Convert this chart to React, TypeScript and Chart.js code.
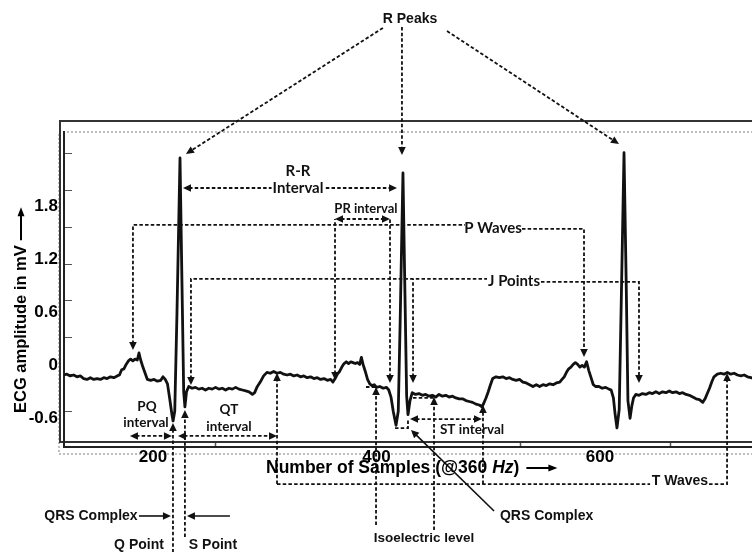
import { useEffect, useRef } from "react";
import { Chart, registerables } from "chart.js";
Chart.register(...registerables);

// ECG trace: [sample index, amplitude in mV]
const ecgTrace: [number, number][] = [
  [120, -0.11], [123, -0.10], [126, -0.12], [129, -0.11], [132, -0.13], [135, -0.12], [138, -0.15], [141, -0.16],
  [144, -0.14], [147, -0.16], [150, -0.15], [153, -0.16], [156, -0.14], [159, -0.15], [162, -0.13], [165, -0.14],
  [168, -0.12], [170, -0.11], [172, -0.05], [174, -0.04], [176, 0.01], [178, 0.05], [180, 0.07], [182, 0.05],
  [184, 0.07], [186, 0.06], [187.5, 0.14], [189, 0.06], [191, -0.02], [193, -0.09], [195, -0.16], [198, -0.17],
  [201, -0.16], [204, -0.18], [207, -0.17], [209, -0.13], [211, -0.16], [213, -0.21], [215, -0.38], [217, -0.56],
  [218, -0.63], [219.5, -0.52], [221.5, 0.6], [224.2, 2.35], [226, 0.9], [227.5, -0.3], [228.6, -0.47], [230, -0.3],
  [232, -0.24], [235, -0.26], [238, -0.25], [241, -0.27], [244, -0.26], [247, -0.28], [250, -0.26], [253, -0.27],
  [256, -0.25], [259, -0.27], [262, -0.26], [265, -0.28], [268, -0.26], [271, -0.27], [274, -0.25], [277, -0.27],
  [280, -0.28], [283, -0.29], [286, -0.30], [289, -0.33], [291, -0.31], [293, -0.25], [296, -0.19], [299, -0.12],
  [302, -0.08], [305, -0.09], [308, -0.07], [311, -0.09], [314, -0.08], [317, -0.10], [320, -0.11], [323, -0.10],
  [326, -0.12], [329, -0.11], [332, -0.13], [335, -0.12], [338, -0.14], [341, -0.13], [344, -0.15], [347, -0.14],
  [350, -0.16], [353, -0.15], [356, -0.17], [359, -0.16], [361, -0.19], [363, -0.15], [365, -0.10], [367, -0.07],
  [369, -0.02], [371, 0.02], [373, 0.04], [375, 0.02], [377, 0.04], [379, 0.03], [381, 0.02], [383, 0.03],
  [385, 0.01], [386.5, 0.09], [388, 0.01], [390, -0.07], [392, -0.16], [394, -0.21], [396, -0.23], [398, -0.22],
  [400, -0.25], [403, -0.24], [406, -0.26], [409, -0.25], [411, -0.28], [413, -0.36], [415, -0.52], [417.5, -0.68],
  [419.5, -0.52], [421.2, 0.5], [423.7, 2.18], [425.5, 0.8], [427, -0.35], [428.2, -0.56], [430, -0.4], [432, -0.31],
  [435, -0.33], [438, -0.32], [441, -0.34], [444, -0.33], [447, -0.35], [450, -0.34], [453, -0.36], [456, -0.33],
  [459, -0.35], [462, -0.34], [465, -0.36], [468, -0.35], [471, -0.37], [474, -0.38], [477, -0.38], [480, -0.40],
  [483, -0.41], [486, -0.42], [489, -0.44], [492, -0.45], [494.4, -0.47], [496, -0.43], [498, -0.37], [500, -0.30],
  [502, -0.22], [504, -0.15], [507, -0.13], [510, -0.14], [513, -0.13], [516, -0.15], [519, -0.14], [522, -0.16],
  [525, -0.17], [528, -0.16], [531, -0.19], [534, -0.20], [537, -0.22], [540, -0.24], [543, -0.22], [546, -0.24],
  [549, -0.22], [552, -0.23], [555, -0.21], [558, -0.22], [561, -0.20], [564, -0.19], [566, -0.16], [568, -0.13],
  [570, -0.08], [572, -0.04], [574, -0.02], [576, 0.01], [578, 0.03], [580, 0.01], [582, -0.02], [584, 0.0],
  [586, -0.02], [588, 0.04], [590, -0.06], [592, -0.14], [594, -0.22], [596, -0.24], [599, -0.24], [602, -0.26],
  [605, -0.25], [608, -0.27], [610, -0.28], [612, -0.37], [613.5, -0.55], [615.2, -0.71], [617.2, -0.5], [619, 0.7],
  [621.5, 2.41], [623.5, 0.9], [625, -0.4], [626.9, -0.6], [628.5, -0.46], [630, -0.37], [632, -0.33], [635, -0.34],
  [638, -0.32], [641, -0.33], [644, -0.31], [647, -0.32], [650, -0.30], [653, -0.32], [656, -0.30], [659, -0.31],
  [662, -0.29], [665, -0.31], [668, -0.30], [671, -0.32], [674, -0.31], [677, -0.33], [680, -0.34], [683, -0.36],
  [686, -0.38], [689, -0.39], [692, -0.42], [694, -0.38], [696, -0.32], [698, -0.26], [700, -0.19], [702, -0.13],
  [705, -0.10], [708, -0.09], [711, -0.10], [714, -0.08], [717, -0.10], [720, -0.09], [723, -0.11], [726, -0.12],
  [729, -0.11], [732, -0.13], [735, -0.14], [738, -0.15], [741, -0.16], [744, -0.17],
];

const xTickValues = [200, 400, 600];
const yTickValues = [-0.6, 0, 0.6, 1.2, 1.8];
const yMinorTicks = [2.41, 1.99, 1.57, 1.15, 0.74, 0.32, -0.1, -0.52];
const xMinorTicks = [255.5, 528.4, 662.7];
const X_MIN = 120.4;
const X_MAX = 756.6;
const Y_MIN = -0.926;
const Y_MAX = 2.645;

type Pt = [number, number];
interface AnnoPath { pts: Pt[]; head0?: boolean; head1?: boolean; solid?: boolean }
interface AnnoLabel { text: string; at: Pt; font: string; align?: CanvasTextAlign; bg?: boolean }

const ARIAL = "'Liberation Sans', Arial, sans-serif";
const CALI = "Lato, 'Open Sans', sans-serif";

// annotation geometry in data units (sample, mV)
const annotationPaths: AnnoPath[] = [
  // R peaks
  { pts: [[405.8, 3.825], [229.5, 2.396]], head1: true },
  { pts: [[422.8, 3.836], [422.8, 2.385]], head1: true },
  { pts: [[463.1, 3.79], [617, 2.509]], head1: true },
  // R-R interval
  { pts: [[226.9, 2.01], [418.4, 2.01]], head0: true, head1: true },
  // PR interval
  { pts: [[362.9, 1.659], [412.1, 1.659]], head0: true, head1: true },
  // P waves
  { pts: [[182.1, 0.174], [182.1, 1.591], [479.2, 1.591]], head0: true },
  { pts: [[362.9, -0.166], [362.9, 1.659]], head0: true },
  { pts: [[530.2, 1.546], [585.7, 1.546], [585.7, 0.094]], head1: true },
  // J points
  { pts: [[234, -0.223], [234, 0.979], [498.9, 0.979]], head0: true },
  { pts: [[432.7, -0.2], [432.7, 0.979]], head0: true },
  { pts: [[412.1, -0.2], [412.1, 1.659]], head0: true },
  { pts: [[547.2, 0.945], [634.9, 0.945], [634.9, -0.2]], head1: true },
  // PQ / QT
  { pts: [[179.4, -0.801], [217, -0.801]], head0: true, head1: true },
  { pts: [[222.4, -0.801], [311, -0.801]], head0: true, head1: true },
  // Q point / S point
  { pts: [[217.9, -2.25], [217.9, -0.654]], head1: true },
  { pts: [[228.6, -1.946], [228.6, -0.506]], head1: true },
  // T waves
  { pts: [[311, -1.346], [311, -0.087]], head1: true },
  { pts: [[311, -1.346], [644.8, -1.346]] },
  { pts: [[697.6, -1.346], [713.7, -1.346], [713.7, -0.087]], head1: true },
  { pts: [[495.3, -1.346], [495.3, -0.45]], head1: true },
  // ST interval
  { pts: [[430, -0.609], [494.4, -0.609]], head0: true, head1: true },
  { pts: [[416.6, -0.711], [428.2, -0.711], [428.2, -0.6]] },
  // isoelectric level
  { pts: [[399.6, -1.81], [399.6, -0.246]], head1: true },
  { pts: [[390.6, -0.246], [399.6, -0.246]] },
  { pts: [[451.5, -1.867], [451.5, -0.359]], head1: true },
  { pts: [[432.7, -0.37], [451.5, -0.37]] },
  // QRS complex pointers (solid)
  { pts: [[505.2, -1.652], [430.9, -0.733]], head1: true, solid: true },
  { pts: [[187.5, -1.708], [216.1, -1.708]], head1: true, solid: true },
  { pts: [[268.9, -1.708], [230.4, -1.708]], head1: true, solid: true },
];

const annotationLabels: AnnoLabel[] = [
  { text: "R Peaks", at: [430, 3.93], font: `bold 14px ${ARIAL}` },
  { text: "R-R", at: [329.8, 2.203], font: `bold 15px ${CALI}` },
  { text: "Interval", at: [329.8, 2.01], font: `bold 15px ${CALI}`, bg: true },
  { text: "PR interval", at: [390.6, 1.772], font: `bold 13px ${CALI}` },
  { text: "P Waves", at: [504.3, 1.557], font: `bold 15px ${CALI}` },
  { text: "J Points", at: [523.1, 0.956], font: `bold 15px ${CALI}` },
  { text: "PQ", at: [194.6, -0.472], font: `bold 13.5px ${CALI}` },
  { text: "interval", at: [193.7, -0.654], font: `bold 13.5px ${CALI}` },
  { text: "QT", at: [268, -0.506], font: `bold 13.5px ${CALI}` },
  { text: "interval", at: [268, -0.7], font: `bold 13.5px ${CALI}` },
  { text: "ST interval", at: [485.5, -0.733], font: `bold 13.5px ${CALI}` },
  { text: "T Waves", at: [671.6, -1.311], font: `bold 14px ${ARIAL}` },
  { text: "Isoelectric level", at: [442.5, -1.958], font: `bold 13.5px ${ARIAL}` },
  { text: "QRS Complex", at: [510.5, -1.708], font: `bold 14px ${ARIAL}`, align: "left" },
  { text: "QRS Complex", at: [144.5, -1.708], font: `bold 14px ${ARIAL}` },
  { text: "Q Point", at: [187.5, -2.037], font: `bold 14px ${ARIAL}` },
  { text: "S Point", at: [253.7, -2.037], font: `bold 14px ${ARIAL}` },
];

const INK = "#111";

function arrowHead(ctx: CanvasRenderingContext2D, fx: number, fy: number, tx: number, ty: number, len = 8, half = 3.8) {
  const a = Math.atan2(ty - fy, tx - fx);
  const c = Math.cos(a), s = Math.sin(a);
  ctx.beginPath();
  ctx.moveTo(tx, ty);
  ctx.lineTo(tx - len * c + half * s, ty - len * s - half * c);
  ctx.lineTo(tx - len * c - half * s, ty - len * s + half * c);
  ctx.closePath();
  ctx.fill();
}

function shorten(p: number[], q: number[], d: number) {
  const dx = q[0] - p[0], dy = q[1] - p[1];
  const L = Math.hypot(dx, dy) || 1;
  return [p[0] + (dx / L) * d, p[1] + (dy / L) * d];
}

const ecgPlugin = {
  id: "ecgAnnotations",
  beforeDraw(chart: any) {
    const { ctx, chartArea: ca } = chart;
    const W = chart.width;
    const xs = chart.scales.x, ys = chart.scales.y;
    ctx.save();
    ctx.fillStyle = "#fff";
    ctx.fillRect(0, 0, W, chart.height);
    // light dotted frame
    ctx.strokeStyle = "#a8a8a8";
    ctx.lineWidth = 1.5;
    ctx.setLineDash([2, 2]);
    ctx.strokeRect(ca.left - 5, ca.top, W + 30, ca.bottom + 7 - ca.top);
    // outer solid frame
    ctx.setLineDash([]);
    ctx.strokeStyle = "#333";
    ctx.lineWidth = 2;
    ctx.strokeRect(ca.left - 4, ca.top - 11, W + 30, ca.bottom - 5 - (ca.top - 11));
    // inner minor ticks
    ctx.strokeStyle = "#555";
    ctx.lineWidth = 1;
    for (const v of yMinorTicks) {
      const y = Math.round(ys.getPixelForValue(v)) + 0.5;
      ctx.beginPath();
      ctx.moveTo(ca.left, y);
      ctx.lineTo(ca.left + 8, y);
      ctx.stroke();
    }
    ctx.lineWidth = 1.5;
    for (const v of xMinorTicks) {
      const x = Math.round(xs.getPixelForValue(v)) + 0.5;
      ctx.beginPath();
      ctx.moveTo(x, ca.bottom);
      ctx.lineTo(x, ca.bottom - 4);
      ctx.stroke();
    }
    ctx.restore();
  },
  afterDraw(chart: any) {
    const { ctx, chartArea: ca } = chart;
    const xs = chart.scales.x, ys = chart.scales.y;
    const P = (p: Pt) => [xs.getPixelForValue(p[0]), ys.getPixelForValue(p[1])];
    ctx.save();
    ctx.strokeStyle = INK;
    ctx.fillStyle = INK;
    ctx.lineCap = "butt";
    for (const path of annotationPaths) {
      const pts = path.pts.map(P);
      const n = pts.length;
      const draw = pts.map((p) => [p[0], p[1]]);
      if (path.head0) draw[0] = shorten(pts[0], pts[1], 6);
      if (path.head1) draw[n - 1] = shorten(pts[n - 1], pts[n - 2], 6);
      ctx.lineWidth = path.solid ? 1.6 : 1.8;
      ctx.setLineDash(path.solid ? [] : [3.5, 2.2]);
      ctx.beginPath();
      ctx.moveTo(draw[0][0], draw[0][1]);
      for (let i = 1; i < n; i++) ctx.lineTo(draw[i][0], draw[i][1]);
      ctx.stroke();
      ctx.setLineDash([]);
      if (path.head0) arrowHead(ctx, pts[1][0], pts[1][1], pts[0][0], pts[0][1]);
      if (path.head1) arrowHead(ctx, pts[n - 2][0], pts[n - 2][1], pts[n - 1][0], pts[n - 1][1]);
    }
    // labels
    ctx.textBaseline = "middle";
    for (const lb of annotationLabels) {
      const [x, y] = P(lb.at);
      ctx.font = lb.font;
      ctx.textAlign = lb.align || "center";
      if (lb.bg) {
        const w = ctx.measureText(lb.text).width;
        ctx.fillStyle = "#fff";
        ctx.fillRect(x - w / 2 - 1, y - 8, w + 2, 16);
      }
      ctx.fillStyle = INK;
      ctx.fillText(lb.text, x, y);
    }
    // x axis title
    ctx.textAlign = "left";
    ctx.fillStyle = "#000";
    let tx = ca.left + 202;
    const ty = ca.bottom + 21;
    const parts: [string, string][] = [
      ["Number of Samples (@360 ", `bold 17.5px ${ARIAL}`],
      ["Hz", `italic bold 17.5px ${ARIAL}`],
      [")", `bold 17.5px ${ARIAL}`],
    ];
    for (const [t, f] of parts) {
      ctx.font = f;
      ctx.fillText(t, tx, ty);
      tx += ctx.measureText(t).width;
    }
    ctx.lineWidth = 2;
    ctx.strokeStyle = "#000";
    ctx.beginPath();
    ctx.moveTo(tx + 7, ty);
    ctx.lineTo(tx + 32, ty);
    ctx.stroke();
    ctx.fillStyle = "#000";
    arrowHead(ctx, tx + 7, ty, tx + 38, ty, 9, 3.5);
    // y axis title
    ctx.save();
    ctx.translate(21, ca.bottom - 34);
    ctx.rotate(-Math.PI / 2);
    ctx.font = `bold 16.5px ${ARIAL}`;
    const ytxt = "ECG amplitude in mV";
    ctx.fillText(ytxt, 0, 0);
    const yw = ctx.measureText(ytxt).width;
    ctx.beginPath();
    ctx.moveTo(yw + 5, 0);
    ctx.lineTo(yw + 32, 0);
    ctx.stroke();
    arrowHead(ctx, yw + 5, 0, yw + 38, 0, 9, 3.5);
    ctx.restore();
    ctx.restore();
  },
};

export default function App() {
  const ref = useRef<HTMLCanvasElement | null>(null);
  useEffect(() => {
    if (!ref.current) return;
    const chart = new Chart(ref.current, {
      type: "line",
      data: {
        datasets: [
          {
            data: ecgTrace.map(([x, y]) => ({ x, y })),
            borderColor: "#111",
            borderWidth: 2.8,
            pointRadius: 0,
            tension: 0,
            borderJoinStyle: "round",
            fill: false,
          },
        ],
      },
      options: {
        animation: false,
        responsive: true,
        maintainAspectRatio: false,
        layout: { padding: { left: 0, top: 132, right: 15, bottom: 0 } },
        plugins: { legend: { display: false }, tooltip: { enabled: false }, title: { display: false } },
        events: [],
        scales: {
          x: {
            type: "linear",
            min: X_MIN,
            max: X_MAX,
            grid: { display: false, drawTicks: false },
            border: { display: true, color: "#222", width: 2 },
            afterBuildTicks: (s: any) => {
              s.ticks = xTickValues.map((v) => ({ value: v }));
            },
            afterFit: (s: any) => {
              s.height = 105;
            },
            ticks: {
              padding: 0,
              color: "#000",
              font: { family: ARIAL, size: 17, weight: "bold" },
              callback: (v: any) => String(v),
              maxRotation: 0,
              autoSkip: false,
            },
          },
          y: {
            type: "linear",
            min: Y_MIN,
            max: Y_MAX,
            grid: { display: false, drawTicks: false },
            border: { display: true, color: "#222", width: 2 },
            afterBuildTicks: (s: any) => {
              s.ticks = yTickValues.map((v) => ({ value: v }));
            },
            afterFit: (s: any) => {
              s.width = 64;
            },
            ticks: {
              padding: 6,
              color: "#000",
              font: { family: ARIAL, size: 17, weight: "bold" },
              callback: (v: any) => (v === 0 ? "0" : Number(v).toFixed(1)),
              autoSkip: false,
            },
          },
        },
      },
      plugins: [ecgPlugin],
    } as any);
    return () => chart.destroy();
  }, []);
  return (
    <div style={{ position: "fixed", left: 0, top: 0, width: 790, height: 552, background: "#fff" }}>
      <canvas ref={ref} />
    </div>
  );
}
